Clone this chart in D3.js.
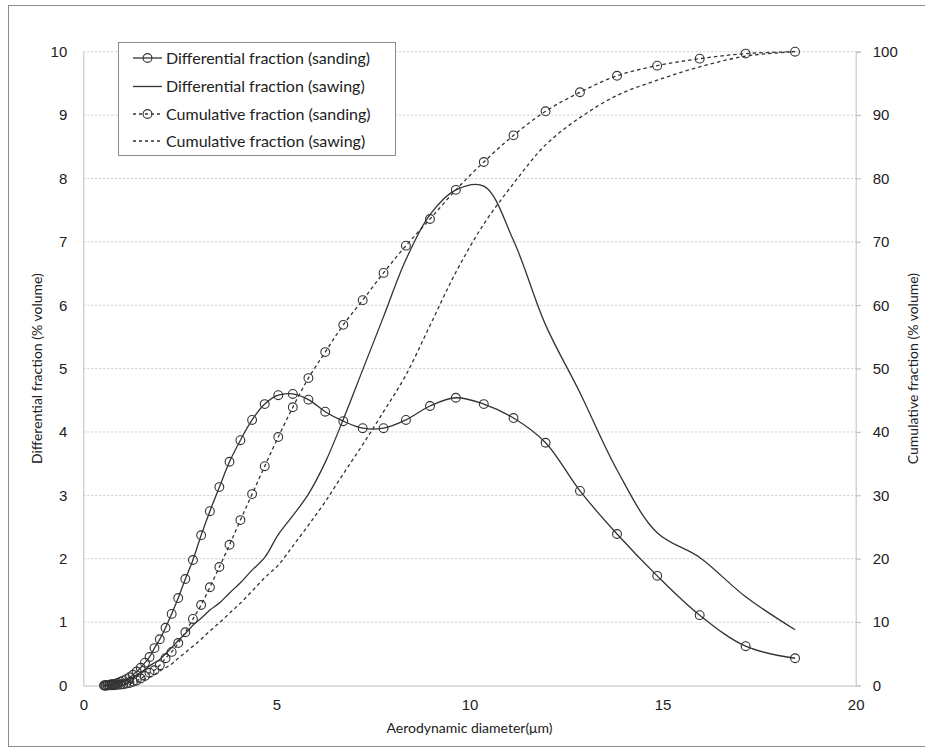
<!DOCTYPE html>
<html>
<head>
<meta charset="utf-8">
<script src="https://cdn.jsdelivr.net/npm/d3@7"></script>
<style>
  body { margin: 0; background: #fff; }
  svg { display: block; font-family: Lato, "Open Sans", sans-serif; }
</style>
</head>
<body>
<svg></svg>
<script>
// APS channel midpoints (µm)
const diameter = [0.542, 0.583, 0.626, 0.673, 0.723, 0.777, 0.835, 0.898, 0.965, 1.037,
  1.114, 1.197, 1.286, 1.382, 1.486, 1.596, 1.715, 1.843, 1.981, 2.129,
  2.288, 2.458, 2.642, 2.839, 3.051, 3.278, 3.523, 3.786, 4.068, 4.371,
  4.698, 5.048, 5.425, 5.829, 6.264, 6.732, 7.234, 7.774, 8.354, 8.977,
  9.647, 10.37, 11.14, 11.97, 12.86, 13.82, 14.86, 15.96, 17.15, 18.43];

const diffSanding = [0.00, 0.00, 0.01, 0.01, 0.02, 0.02, 0.03, 0.04, 0.06, 0.08,
  0.10, 0.13, 0.17, 0.22, 0.28, 0.36, 0.45, 0.59, 0.73, 0.91,
  1.13, 1.38, 1.68, 1.98, 2.37, 2.75, 3.13, 3.53, 3.87, 4.19,
  4.44, 4.58, 4.60, 4.51, 4.32, 4.17, 4.06, 4.06, 4.19, 4.41,
  4.54, 4.44, 4.22, 3.83, 3.07, 2.39, 1.73, 1.11, 0.62, 0.43];

const diffSawing = [0.00, 0.00, 0.01, 0.01, 0.02, 0.02, 0.03, 0.04, 0.05, 0.07,
  0.09, 0.11, 0.13, 0.17, 0.21, 0.25, 0.31, 0.36, 0.41, 0.50,
  0.60, 0.71, 0.82, 0.95, 1.06, 1.19, 1.30, 1.46, 1.62, 1.82,
  2.02, 2.38, 2.68, 3.02, 3.52, 4.20, 4.98, 5.82, 6.72, 7.43,
  7.82, 7.88, 7.02, 5.69, 4.62, 3.40, 2.41, 2.02, 1.40, 0.88];

const cumSanding = [0.0, 0.0, 0.01, 0.02, 0.03, 0.05, 0.07, 0.1, 0.15, 0.2,
  0.3, 0.4, 0.6, 0.8, 1.1, 1.5, 2.0, 2.4, 3.2, 4.3,
  5.3, 6.7, 8.4, 10.5, 12.7, 15.5, 18.7, 22.2, 26.1, 30.2,
  34.6, 39.2, 43.9, 48.5, 52.6, 56.9, 60.8, 65.1, 69.4, 73.6,
  78.2, 82.6, 86.8, 90.6, 93.6, 96.2, 97.8, 98.9, 99.7, 100];

const cumSawing = [0.0, 0.0, 0.0, 0.01, 0.02, 0.03, 0.05, 0.07, 0.1, 0.15,
  0.2, 0.3, 0.4, 0.55, 0.75, 1.0, 1.3, 1.7, 2.3, 2.8,
  3.4, 4.3, 5.2, 6.2, 7.3, 8.6, 9.9, 11.4, 13.0, 14.9,
  17.0, 19.0, 22.0, 25.3, 29.0, 33.4, 38.0, 43.2, 49.0, 56.8,
  65.2, 72.8, 79.2, 85.3, 89.6, 93.1, 95.5, 97.6, 99.3, 100];

const xTicks = [0, 5, 10, 15, 20];
const leftTicks = [0, 1, 2, 3, 4, 5, 6, 7, 8, 9, 10];
const rightTicks = [0, 10, 20, 30, 40, 50, 60, 70, 80, 90, 100];

const legendItems = [
  {label: 'Differential fraction (sanding)', dash: null, marker: true},
  {label: 'Differential fraction (sawing)', dash: null, marker: false},
  {label: 'Cumulative fraction (sanding)', dash: '3,3', marker: true},
  {label: 'Cumulative fraction (sawing)', dash: '3,3', marker: false}
];

const width = 925;
const height = 749;
const plotLeft = 83.3, plotRight = 855.7, plotTop = 51.7, plotBottom = 685.5;

const ink = '#333';
const axisGrey = '#bfbfbf';

const svg = d3.select('svg').attr('width', width).attr('height', height);

// outer frame
svg.append('rect')
    .attr('x', 8.5).attr('y', 5.5)
    .attr('width', 930).attr('height', 741)
    .attr('fill', 'none').attr('stroke', '#8c8c8c');

const x = d3.scaleLinear().domain([0, 20]).range([plotLeft, plotRight]);
const yL = d3.scaleLinear().domain([0, 10]).range([plotBottom, plotTop]);
const yR = d3.scaleLinear().domain([0, 100]).range([plotBottom, plotTop]);

// gridlines
svg.append('g')
  .selectAll('line')
  .data(leftTicks.slice(1))
  .enter()
  .append('line')
    .attr('x1', plotLeft).attr('x2', plotRight + 5)
    .attr('y1', d => yL(d)).attr('y2', d => yL(d))
    .attr('stroke', '#c8c8c8')
    .attr('stroke-dasharray', '2,2');

// left axis
const axL = svg.append('g')
    .attr('transform', 'translate(' + plotLeft + ',0)')
    .call(d3.axisLeft(yL).tickValues(leftTicks).tickSize(0).tickPadding(16));
axL.select('.domain').attr('stroke', axisGrey);
axL.selectAll('text').attr('font-size', 15).attr('fill', '#222');

// right axis
const axR = svg.append('g')
    .attr('transform', 'translate(' + plotRight + ',0)')
    .call(d3.axisRight(yR).tickValues(rightTicks).tickSize(5).tickPadding(12));
axR.select('.domain').attr('stroke', axisGrey);
axR.selectAll('line').attr('stroke', axisGrey);
axR.selectAll('text').attr('font-size', 15).attr('fill', '#222');

// bottom axis
const axB = svg.append('g')
    .attr('transform', 'translate(0,' + plotBottom + ')')
    .call(d3.axisBottom(x).tickValues(xTicks).tickSize(0).tickPadding(14));
axB.select('.domain').attr('stroke', axisGrey);
axB.selectAll('text').attr('font-size', 15).attr('fill', '#222');

// axis titles
svg.append('text')
    .attr('x', (plotLeft + plotRight) / 2).attr('y', 733)
    .attr('text-anchor', 'middle').attr('font-size', 14).attr('fill', '#222')
    .text('Aerodynamic diameter(μm)');

svg.append('text')
    .attr('transform', 'translate(42,' + ((plotTop + plotBottom) / 2) + ') rotate(-90)')
    .attr('text-anchor', 'middle').attr('font-size', 14).attr('fill', '#222')
    .text('Differential fraction (% volume)');

svg.append('text')
    .attr('transform', 'translate(918,' + ((plotTop + plotBottom) / 2) + ') rotate(-90)')
    .attr('text-anchor', 'middle').attr('font-size', 14).attr('fill', '#222')
    .text('Cumulative fraction (% volume)');

// series
const curve = d3.curveCatmullRom;

const series = [
  {values: diffSanding, scale: yL, dash: null, marker: true},
  {values: diffSawing, scale: yL, dash: null, marker: false},
  {values: cumSanding, scale: yR, dash: '3.5,3', marker: true},
  {values: cumSawing, scale: yR, dash: '3.5,3', marker: false}
];

series.forEach(s => {
  const pts = diameter.map((d, i) => [d, s.values[i]]);
  const line = d3.line().x(p => x(p[0])).y(p => s.scale(p[1])).curve(curve);

  svg.append('path')
      .datum(pts)
      .attr('d', line)
      .attr('fill', 'none')
      .attr('stroke', ink)
      .attr('stroke-width', 1.3)
      .attr('stroke-dasharray', s.dash);

  if (s.marker) {
    svg.append('g')
      .selectAll('circle')
      .data(pts)
      .enter()
      .append('circle')
        .attr('cx', p => x(p[0]))
        .attr('cy', p => s.scale(p[1]))
        .attr('r', 4.4)
        .attr('fill', 'none')
        .attr('stroke', ink)
        .attr('stroke-width', 1.1);
  }
});

// legend
const lg = svg.append('g');
lg.append('rect')
    .attr('x', 118.5).attr('y', 42.5)
    .attr('width', 277).attr('height', 113)
    .attr('fill', '#fff').attr('stroke', '#8c8c8c');

const rowY = [58, 86.5, 114, 141];
legendItems.forEach((d, i) => {
  const yy = rowY[i];
  lg.append('line')
      .attr('x1', 133).attr('x2', 162)
      .attr('y1', yy).attr('y2', yy)
      .attr('stroke', ink).attr('stroke-width', 1.3)
      .attr('stroke-dasharray', d.dash);
  if (d.marker) {
    lg.append('circle')
        .attr('cx', 147.5).attr('cy', yy).attr('r', 4.4)
        .attr('fill', 'none').attr('stroke', ink).attr('stroke-width', 1.1);
  }
  lg.append('text')
      .attr('x', 166).attr('y', yy).attr('dy', '0.35em')
      .attr('font-size', 16).attr('fill', '#222')
      .text(d.label);
});
</script>
</body>
</html>
